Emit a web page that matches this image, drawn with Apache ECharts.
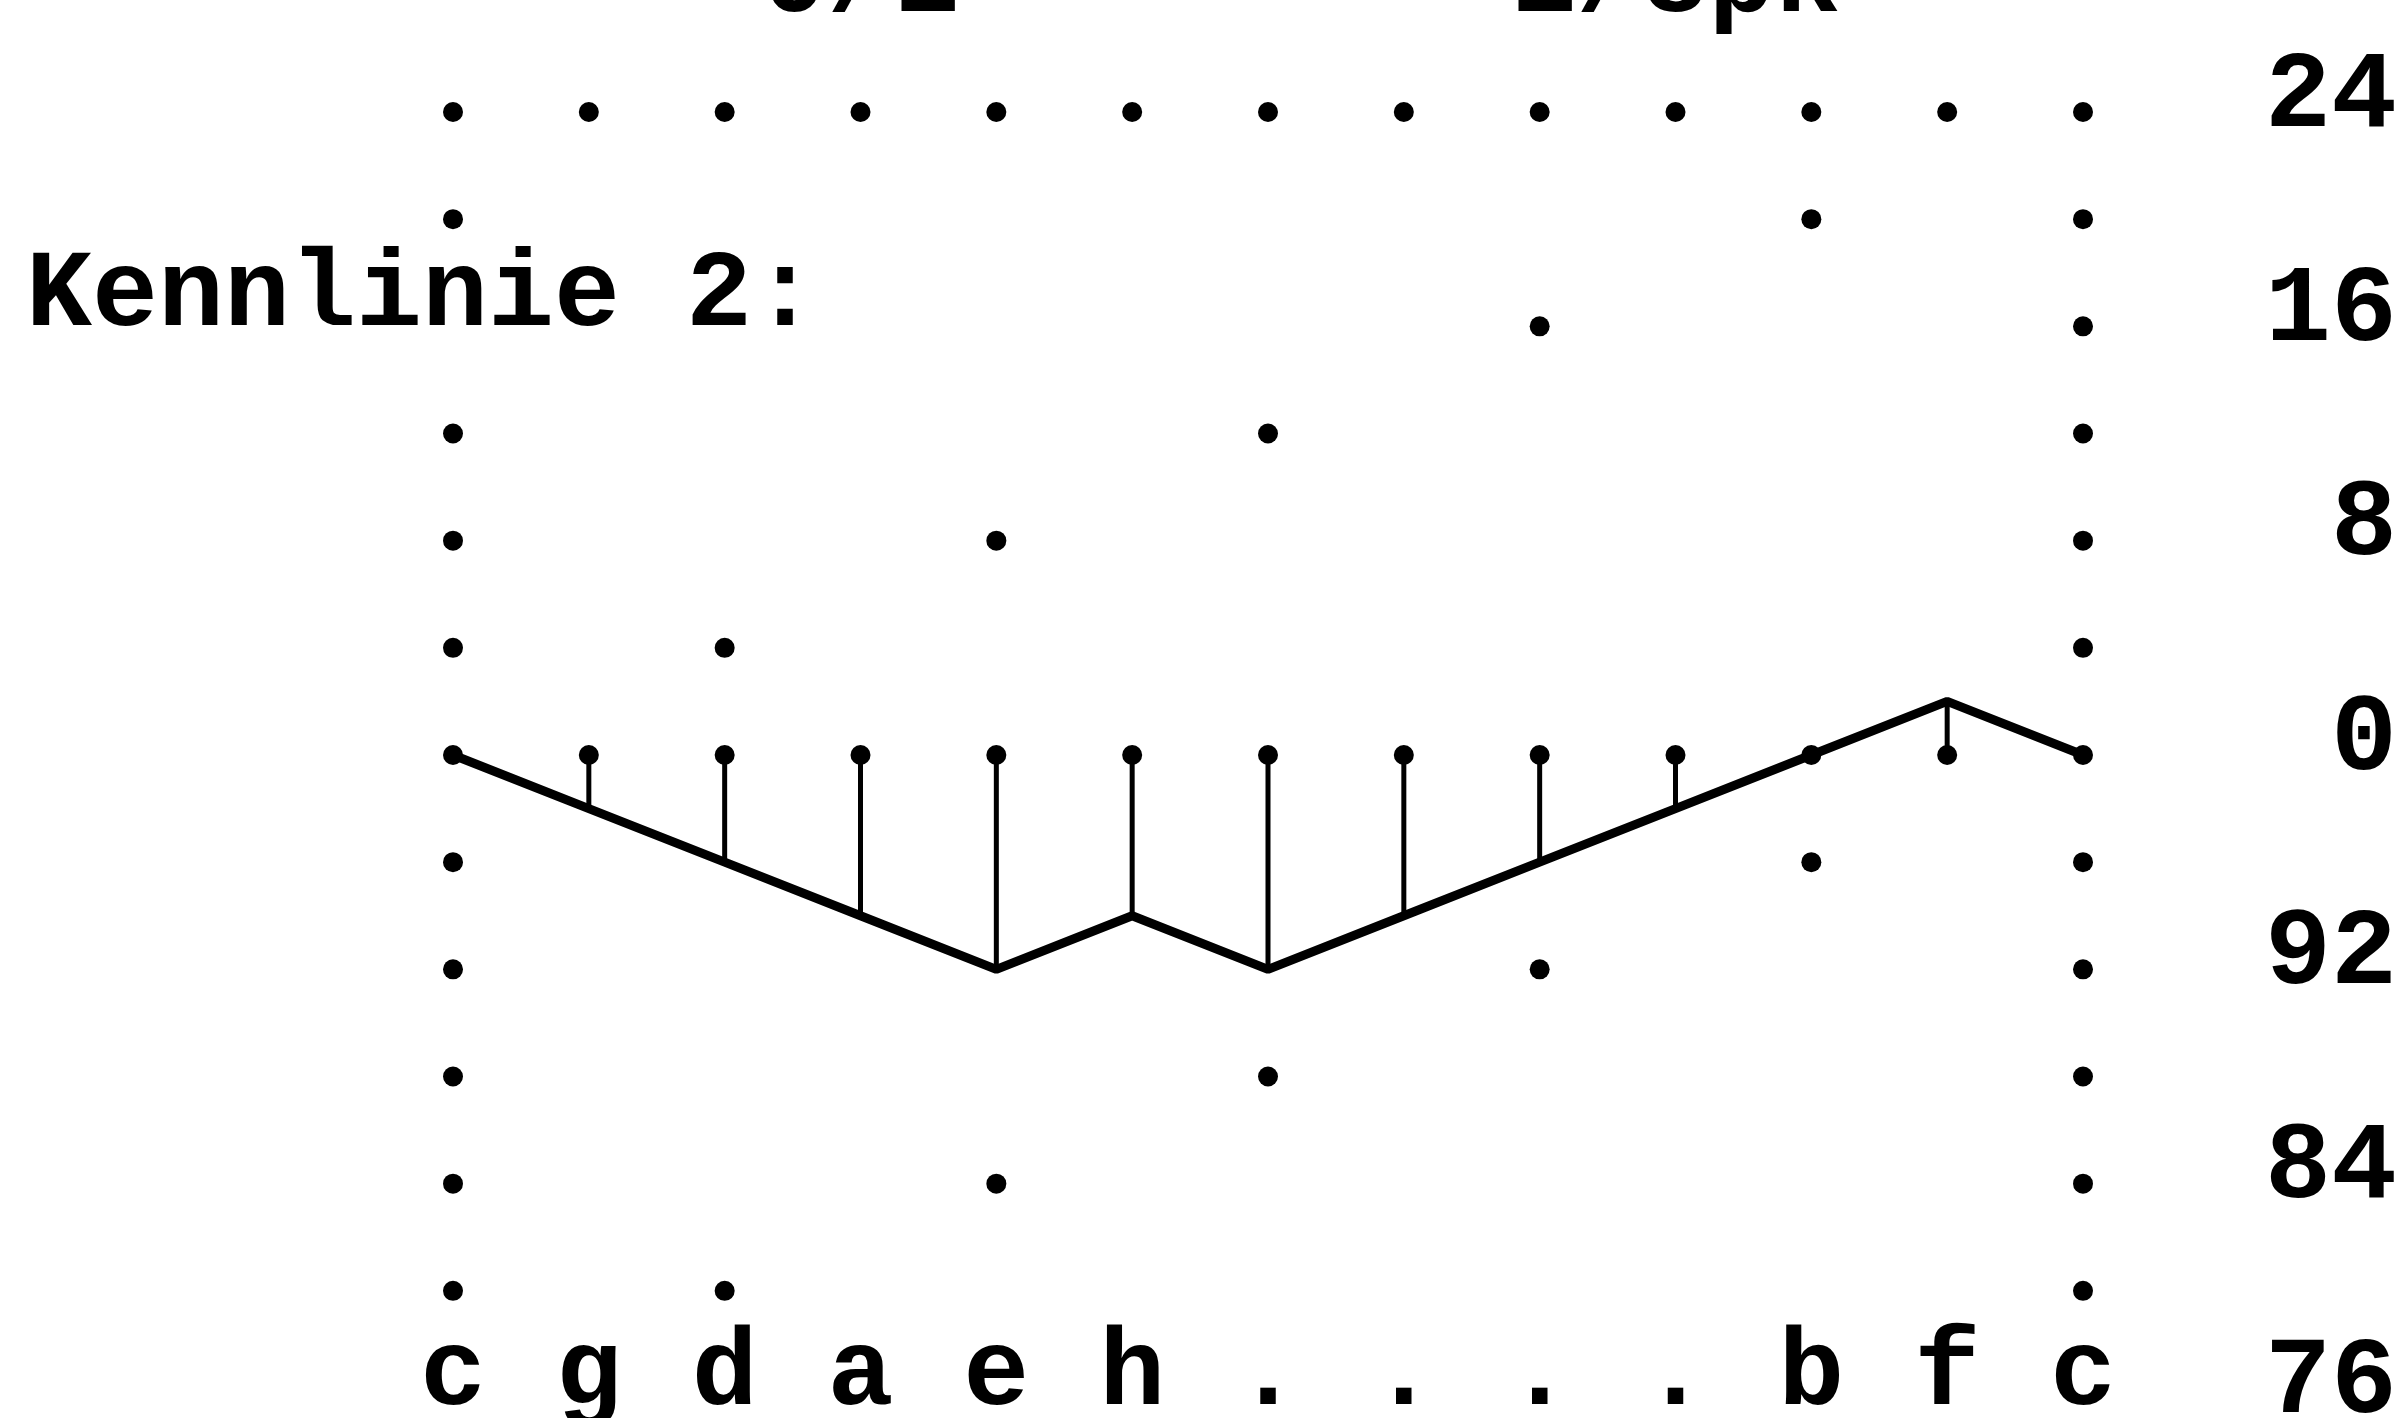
<!DOCTYPE html>
<html>
<head>
<meta charset="utf-8">
<title>Kennlinie 2</title>
<script src="https://cdn.jsdelivr.net/npm/echarts@6/dist/echarts.min.js"></script>
<style>
  html, body { margin: 0; padding: 0; background: #fff; }
  #chart { width: 2396px; height: 1418px; }
</style>
</head>
<body>
<div id="chart"></div>
<script>
// Spalten (Tonnamen) und Kennlinie, Werte in Schritten von 2
const columns = ['c', 'g', 'd', 'a', 'e', 'h', '.', '.', '.', '.', 'b', 'f', 'c'];
const kennlinie = [0, -2, -4, -6, -8, -6, -8, -6, -4, -2, 0, 2, 0];

// Punktraster: Ränder, Nulllinie und zwei Diagonalen
const topRow = [24, 24, 24, 24, 24, 24, 24, 24, 24, 24, 24, 24, 24];
const zeroRow = [0, 0, 0, 0, 0, 0, 0, 0, 0, 0, 0, 0, 0];
const leftColumn = [20, 12, 8, 4, -4, -8, -12, -16, -20];
const rightColumn = [20, 16, 12, 8, 4, -4, -8, -12, -16, -20];
const diagonalUpper = [[2, 4], [4, 8], [6, 12], [8, 16], [10, 20]];
const diagonalLower = [[2, -20], [4, -16], [6, -12], [8, -8], [10, -4]];

const headerTexts = ['0/1', '1/8pk'];
const headerColumns = [3, 9];

const FONT = '"Liberation Mono", "Courier New", monospace';
const FONT_SIZE = 110;

const last = columns.length - 1;
const dots = []
  .concat(topRow.map((v, i) => [i, v]))
  .concat(zeroRow.map((v, i) => [i, v]))
  .concat(leftColumn.map(v => [0, v]))
  .concat(rightColumn.map(v => [last, v]))
  .concat(diagonalUpper)
  .concat(diagonalLower);

const chart = echarts.init(document.getElementById('chart'));

const gridLeft = 453;
const gridWidth = 1630;
const colStep = gridWidth / last;

const option = {
  backgroundColor: '#fff',
  animation: false,
  grid: {
    left: gridLeft,
    width: gridWidth,
    top: 112,
    height: 1286,
    outerBoundsMode: 'none',
    containLabel: false,
  },
  xAxis: {
    type: 'category',
    data: columns,
    boundaryGap: false,
    axisLine: { show: false },
    axisTick: { show: false },
    splitLine: { show: false },
    axisLabel: {
      interval: 0,
      margin: -22,
      verticalAlign: 'middle',
      color: '#000',
      fontFamily: FONT,
      fontWeight: 'bold',
      fontSize: FONT_SIZE,
    },
  },
  yAxis: {
    type: 'value',
    position: 'right',
    min: -24,
    max: 24,
    interval: 8,
    axisLine: { show: false },
    axisTick: { show: false },
    splitLine: { show: false },
    axisLabel: {
      align: 'left',
      margin: 182,
      // Zahlen stehen etwas oberhalb der Punktzeile
      verticalAlign: 'bottom',
      lineHeight: 28,
      color: '#000',
      fontFamily: FONT,
      fontWeight: 'bold',
      fontSize: FONT_SIZE,
      // negative Werte als 92, 84, 76 gedruckt
      formatter: v => String(v < 0 ? 100 + v : v).padStart(2, ' '),
    },
  },
  graphic: [
    {
      type: 'text',
      x: 26,
      y: 297,
      style: {
        text: 'Kennlinie 2:',
        font: 'bold ' + FONT_SIZE + 'px ' + FONT,
        fill: '#000',
        verticalAlign: 'middle',
      },
    },
  ].concat(headerTexts.map((t, i) => ({
    type: 'text',
    x: gridLeft + headerColumns[i] * colStep,
    y: -17,
    style: {
      text: t,
      font: 'bold ' + FONT_SIZE + 'px ' + FONT,
      fill: '#000',
      align: 'center',
      verticalAlign: 'middle',
    },
  }))),
  series: [
    {
      name: 'Abweichung',
      type: 'bar',
      data: kennlinie,
      barWidth: 5,
      itemStyle: { color: '#000', opacity: 1 },
      silent: true,
    },
    {
      name: 'Raster',
      type: 'scatter',
      data: dots,
      symbol: 'circle',
      symbolSize: 20,
      clip: false,
      itemStyle: { color: '#000', opacity: 1 },
      silent: true,
    },
    {
      name: 'Kennlinie',
      type: 'line',
      data: kennlinie,
      showSymbol: false,
      clip: false,
      lineStyle: { color: '#000', width: 9 },
      silent: true,
    },
  ],
};

chart.setOption(option);
window.addEventListener('resize', () => chart.resize());
</script>
</body>
</html>
